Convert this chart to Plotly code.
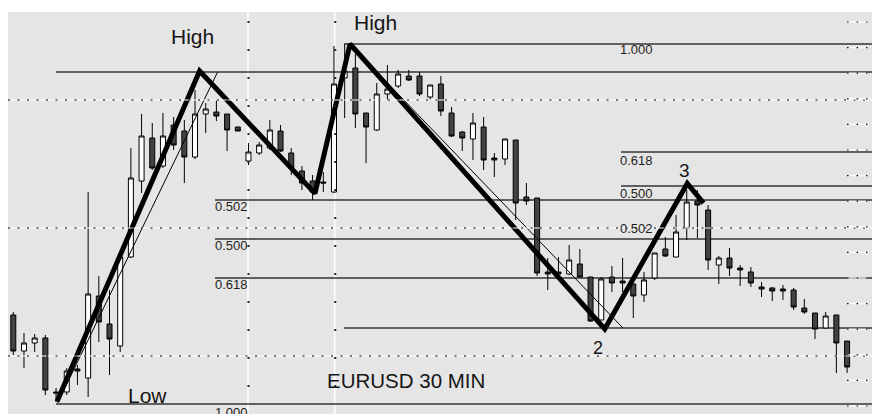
import plotly.graph_objects as go

# ---------------- data (EURUSD 30 min candles) ----------------
candle_idx = list(range(79))

open_ = [1.33645, 1.33465, 1.33505, 1.33530, 1.33260, 1.33260, 1.33375, 1.33330, 1.33740, 1.33600,
         1.33490, 1.33935, 1.34315, 1.34530, 1.34390, 1.34595, 1.34565, 1.34435, 1.34650, 1.34660,
         1.34650, 1.34585, 1.34415, 1.34455, 1.34480, 1.34565, 1.34455, 1.34365, 1.34315, 1.34310,
         1.34260, 1.34830, 1.34880, 1.34655, 1.34570, 1.34750, 1.34790, 1.34840, 1.34840, 1.34735,
         1.34800, 1.34655, 1.34560, 1.34525, 1.34585, 1.34430, 1.34425, 1.34520, 1.34235, 1.34230,
         1.33860, 1.33860, 1.33850, 1.33900, 1.33835, 1.33620, 1.33835, 1.33815, 1.33800, 1.33745,
         1.33830, 1.33975, 1.33935, 1.34080, 1.34215, 1.34170, 1.33895, 1.33930, 1.33880, 1.33860,
         1.33785, 1.33780, 1.33775, 1.33770, 1.33680, 1.33655, 1.33580, 1.33645, 1.33515]

high = [1.33660, 1.33555, 1.33550, 1.33545, 1.33280, 1.33380, 1.33395, 1.34260, 1.33840, 1.33770,
        1.33935, 1.34480, 1.34650, 1.34605, 1.34655, 1.34635, 1.34620, 1.34770, 1.34705, 1.34720,
        1.34650, 1.34585, 1.34505, 1.34510, 1.34620, 1.34595, 1.34480, 1.34390, 1.34345, 1.34360,
        1.34990, 1.35000, 1.34950, 1.34655, 1.34805, 1.34895, 1.34870, 1.34870, 1.34860, 1.34795,
        1.34840, 1.34685, 1.34565, 1.34655, 1.34635, 1.34455, 1.34525, 1.34520, 1.34305, 1.34230,
        1.33930, 1.33935, 1.33995, 1.33975, 1.33835, 1.33835, 1.33890, 1.33930, 1.33800, 1.33860,
        1.33955, 1.34035, 1.34145, 1.34270, 1.34270, 1.34195, 1.33940, 1.33980, 1.33895, 1.33885,
        1.33810, 1.33785, 1.33795, 1.33780, 1.33725, 1.33655, 1.33660, 1.33645, 1.33515]

low = [1.33445, 1.33380, 1.33460, 1.33245, 1.33210, 1.33245, 1.33295, 1.33235, 1.33510, 1.33345,
       1.33460, 1.33930, 1.34255, 1.34370, 1.34380, 1.34470, 1.34305, 1.34425, 1.34555, 1.34615,
       1.34465, 1.34565, 1.34395, 1.34445, 1.34470, 1.34460, 1.34345, 1.34270, 1.34220, 1.34260,
       1.34255, 1.34630, 1.34580, 1.34405, 1.34565, 1.34720, 1.34780, 1.34815, 1.34740, 1.34720,
       1.34640, 1.34535, 1.34465, 1.34420, 1.34370, 1.34335, 1.34395, 1.34120, 1.34195, 1.33840,
       1.33770, 1.33820, 1.33845, 1.33835, 1.33610, 1.33620, 1.33760, 1.33760, 1.33630, 1.33710,
       1.33820, 1.33935, 1.33935, 1.34020, 1.34030, 1.33870, 1.33800, 1.33840, 1.33790, 1.33785,
       1.33735, 1.33715, 1.33720, 1.33670, 1.33650, 1.33525, 1.33580, 1.33355, 1.33355]

close = [1.33465, 1.33505, 1.33530, 1.33270, 1.33255, 1.33365, 1.33365, 1.33750, 1.33610, 1.33525,
         1.33935, 1.34330, 1.34540, 1.34380, 1.34540, 1.34495, 1.34435, 1.34650, 1.34675, 1.34640,
         1.34570, 1.34565, 1.34460, 1.34495, 1.34570, 1.34465, 1.34380, 1.34305, 1.34260, 1.34305,
         1.34800, 1.34865, 1.34650, 1.34585, 1.34750, 1.34775, 1.34850, 1.34820, 1.34750, 1.34795,
         1.34665, 1.34540, 1.34530, 1.34605, 1.34420, 1.34420, 1.34525, 1.34205, 1.34215, 1.33855,
         1.33850, 1.33850, 1.33920, 1.33835, 1.33615, 1.33825, 1.33805, 1.33805, 1.33740, 1.33820,
         1.33955, 1.33940, 1.34060, 1.34210, 1.34195, 1.33920, 1.33930, 1.33880, 1.33870, 1.33805,
         1.33775, 1.33765, 1.33765, 1.33685, 1.33660, 1.33575, 1.33640, 1.33505, 1.33385]

# zigzag swing points (Low, High, pullback, High, 2, 3, last)
zigzag_x = [4.09, 17.43, 28.22, 31.5, 55.33, 63.05, 64.57]
zigzag_y = [1.33212, 1.34865, 1.34253, 1.35000, 1.33575, 1.34303, 1.34204]

# thin trend lines
trend1_x = [4.15, 19.1]
trend1_y = [1.33205, 1.34859]
trend2_x = [31.5, 57.03]
trend2_y = [1.35000, 1.33580]

# Fibonacci levels: price and the candle index where each line starts
fib_levels = [1.35000, 1.34860, 1.34460, 1.34290, 1.34220, 1.34025, 1.33830, 1.33580, 1.33200]
fib_start = [30.93, 3.99, 56.85, 56.85, 18.87, 18.87, 18.87, 30.93, 3.99]

fib_labels = ["1.000", "0.618", "0.500", "0.502", "0.502", "0.500", "0.618", "1.000"]
fib_label_x = [56.57, 56.57, 56.57, 56.57, 18.68, 18.68, 18.68, 18.68]
fib_label_y = [1.349725, 1.34420, 1.342545, 1.34080, 1.341875, 1.339925, 1.33800, 1.33160]

# chart texts
text_labels = ["High", "High", "Low", "2", "3", "EURUSD 30 MIN"]
text_x = [16.72, 33.93, 12.51, 54.7, 62.83, 36.73]
text_y = [1.35038, 1.35108, 1.33242, 1.33480, 1.34370, 1.33318]
text_size = [21, 21, 21, 18, 19, 20.5]

# grid
dotted_levels = [1.34720, 1.34080, 1.33440]
time_grid_x = [21.95, 30.07]

X_RANGE = [-0.496, 81.08]
Y_RANGE = [1.3315, 1.3516]
FONT = "Liberation Sans, Arial, Helvetica, sans-serif"

fig = go.Figure()

fig.add_trace(go.Candlestick(
    x=candle_idx, open=open_, high=high, low=low, close=close,
    increasing=dict(fillcolor="white", line=dict(color="black", width=1)),
    decreasing=dict(fillcolor="#434343", line=dict(color="black", width=1)),
    whiskerwidth=0, showlegend=False, hoverinfo="skip",
))

fig.add_trace(go.Scatter(x=trend1_x, y=trend1_y, mode="lines",
                         line=dict(color="black", width=1), hoverinfo="skip", showlegend=False))
fig.add_trace(go.Scatter(x=trend2_x, y=trend2_y, mode="lines",
                         line=dict(color="black", width=1), hoverinfo="skip", showlegend=False))
fig.add_trace(go.Scatter(x=zigzag_x, y=zigzag_y, mode="lines",
                         line=dict(color="black", width=5), hoverinfo="skip", showlegend=False))

# small tick dots along the vertical time grid lines
dot_prices = [1.3511 - 0.0014 * k for k in range(14)]
for gx in time_grid_x:
    fig.add_trace(go.Scatter(x=[gx + 0.05] * len(dot_prices), y=dot_prices, mode="markers",
                             marker=dict(symbol="square", size=2, color="#222"),
                             hoverinfo="skip", showlegend=False))

shapes = []
for gx in time_grid_x:
    shapes.append(dict(type="line", xref="x", yref="paper", x0=gx, x1=gx, y0=0, y1=1,
                       line=dict(color="white", width=1.5), layer="below"))
for lvl, st in zip(fib_levels, fib_start):
    shapes.append(dict(type="line", xref="x", yref="y", x0=st, x1=X_RANGE[1], y0=lvl, y1=lvl,
                       line=dict(color="#333333", width=1.6), layer="below"))
for lvl in dotted_levels:
    shapes.append(dict(type="line", xref="paper", yref="y", x0=0, x1=1, y0=lvl, y1=lvl,
                       line=dict(color="white", width=1), layer="above"))
    shapes.append(dict(type="line", xref="paper", yref="y", x0=0, x1=1, y0=lvl, y1=lvl,
                       line=dict(color="black", width=1.2, dash="2px,7.5px"), layer="above"))
# right-hand price marks
for k in range(16):
    p = 1.3511 - 0.00128 * k
    shapes.append(dict(type="line", xref="x", yref="y", x0=78.0, x1=79.9, y0=p, y1=p,
                       line=dict(color="white", width=1.2), layer="above"))
    shapes.append(dict(type="line", xref="x", yref="y", x0=78.0, x1=79.9, y0=p, y1=p,
                       line=dict(color="black", width=1.2, dash="1.5px,8px"), layer="above"))

annotations = []
for t, x, y in zip(fib_labels, fib_label_x, fib_label_y):
    annotations.append(dict(text=t, x=x, y=y, xref="x", yref="y", xanchor="left", yanchor="middle",
                            showarrow=False, font=dict(family=FONT, size=13, color="#1e1e1e")))
for t, x, y, s in zip(text_labels, text_x, text_y, text_size):
    annotations.append(dict(text=t, x=x, y=y, xref="x", yref="y", xanchor="center", yanchor="middle",
                            showarrow=False, font=dict(family=FONT, size=s, color="#151515")))

# the page places the figure 8px in from the top-left corner, so the figure
# is sized and padded to land on the same pixels as the reference
fig.update_layout(
    width=872, height=406,
    margin=dict(l=0, r=0, t=4, b=0),
    paper_bgcolor="white", plot_bgcolor="#e5e5e5",
    showlegend=False, hovermode=False,
    boxgap=0.33,
    shapes=shapes, annotations=annotations,
    xaxis=dict(range=X_RANGE, visible=False, rangeslider=dict(visible=False), fixedrange=True),
    yaxis=dict(range=Y_RANGE, visible=False, fixedrange=True),
)

fig.write_html("out.html")
